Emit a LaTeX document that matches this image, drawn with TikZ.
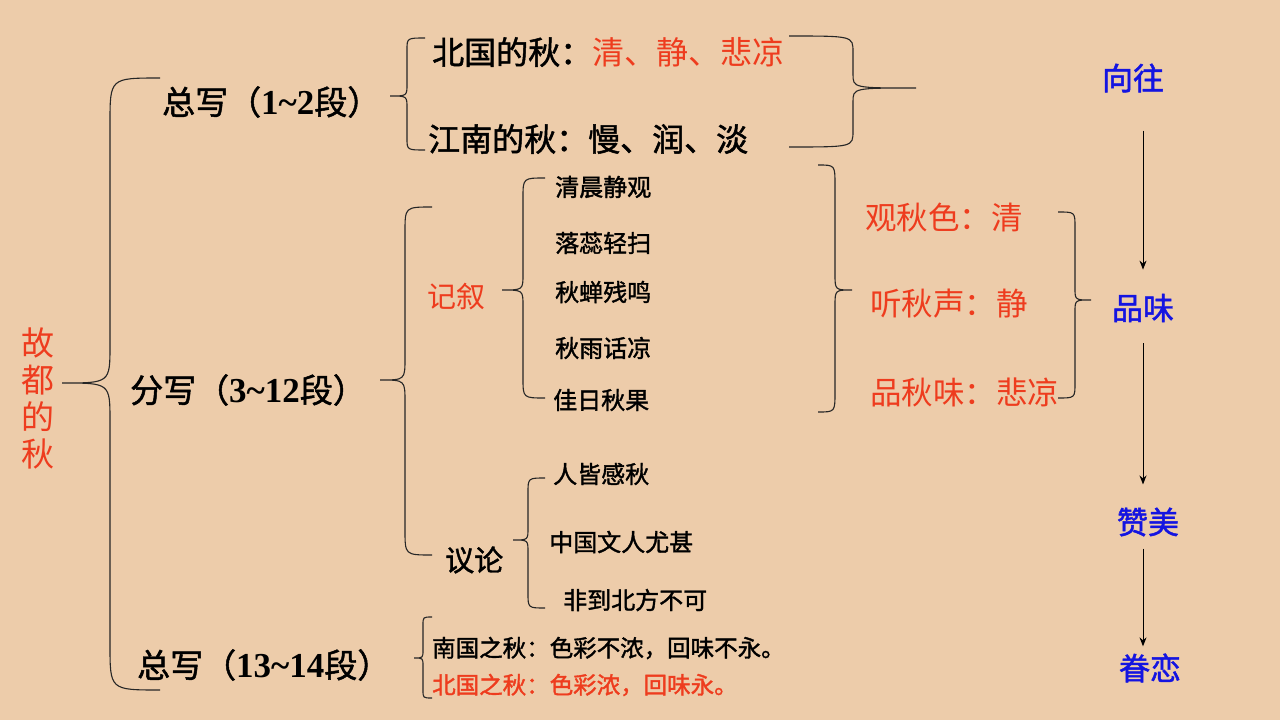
\documentclass[tikz,border=0pt]{standalone}
\usepackage{fontspec}
\setmainfont{Liberation Serif}
\newfontfamily\cjk[AutoFakeBold=1.5]{Noto Sans CJK SC}
\usetikzlibrary{arrows.meta}
\definecolor{bg}{RGB}{237,204,170}
\definecolor{myred}{RGB}{238,60,30}
\definecolor{myblue}{RGB}{20,20,225}
\newcommand\dg[2]{{\rmfamily\bfseries\fontsize{35}{38}\selectfont #1\string~#2}}
% spine x, top y, bottom y, end x, tip x, tip y, end radius, tip radius
\newcommand\curly[8]{\draw[brc] (#4,#2) .. controls (#1,#2) .. (#1,{#2+#7}) -- (#1,{#6-#8}) .. controls (#1,#6) .. (#5,#6) .. controls (#1,#6) .. (#1,{#6+#8}) -- (#1,{#3-#7}) .. controls (#1,#3) .. (#4,#3);}
\begin{document}
\begin{tikzpicture}[x=1pt,y=-1pt,
  brc/.style={draw=black!85,line width=1.1pt},
  txt/.style={inner sep=0pt,anchor=west},
  head/.style={txt,font=\cjk\bfseries\fontsize{33}{37}\selectfont},
  mid/.style={txt,font=\cjk\bfseries\fontsize{29}{34}\selectfont},
  item/.style={txt,font=\cjk\bfseries\fontsize{24}{28}\selectfont},
  small/.style={txt,font=\cjk\bfseries\fontsize{23.5}{27}\selectfont},
  mood/.style={txt,text=myred,font=\cjk\fontsize{31.5}{36}\selectfont},
  flow/.style={inner sep=0pt,text=myblue,font=\cjk\bfseries\fontsize{31}{36}\selectfont},
  arr/.style={draw=black,line width=1pt,-{Stealth[length=9pt,width=7pt]}}]
\fill[bg] (0,0) rectangle (1280,720);
\useasboundingbox (0,0) rectangle (1280,720);

% title
\node[inner sep=0pt,text=myred,align=center,font=\cjk\fontsize{33}{37}\selectfont] (title) at (38,398) {故\\都\\的\\秋};

% level 1
\node[head] (zx1) at (162,102) {总写（\dg{1}{2}段）};
\node[head] (fx) at (130,390) {分写（\dg{3}{12}段）};
\node[head] (zx2) at (137,665) {总写（\dg{13}{14}段）};

% top section
\node[head,font=\cjk\bfseries\fontsize{32}{36}\selectfont] (bg1) at (432,52) {北国的秋：\textcolor{myred}{\mdseries 清、静、悲凉}};
\node[head,font=\cjk\bfseries\fontsize{32}{36}\selectfont] (jn) at (428,139) {江南的秋：慢、润、淡};

% middle section
\node[mid,text=myred,font=\cjk\fontsize{29}{34}\selectfont] (jx) at (427,297) {记叙};
\node[item] (i1) at (555,187) {清晨静观};
\node[item] (i2) at (555,243) {落蕊轻扫};
\node[item] (i3) at (555,292) {秋蝉残鸣};
\node[item] (i4) at (555,348) {秋雨话凉};
\node[item] (i5) at (553,400) {佳日秋果};

\node[mid] (yl) at (445,560) {议论};
\node[item] (j1) at (553,474) {人皆感秋};
\node[item] (j2) at (549,542) {中国文人尤甚};
\node[item] (j3) at (563,600) {非到北方不可};

\node[mood] (m1) at (865,217) {观秋色：清};
\node[mood] (m2) at (870,304) {听秋声：静};
\node[mood] (m3) at (870,392) {品秋味：悲凉};

% bottom section
\node[small] (n1) at (432,648) {南国之秋：色彩不浓，回味不永。};
\node[small,text=myred] (n2) at (432,685) {北国之秋：色彩浓，回味永。};

% right flow
\node[flow] (xw) at (1133,78) {向往};
\node[flow] (pw) at (1143,308) {品味};
\node[flow] (zm) at (1148,522) {赞美};
\node[flow] (jl) at (1150,668) {眷恋};

\draw[arr,shorten <=38pt,shorten >=24pt] (pw.north |- xw.south) -- (pw.north);
\draw[arr,shorten <=21pt,shorten >=23pt] (pw.south) -- (pw.south |- zm.north);
\draw[arr,shorten <=12pt,shorten >=7pt] (pw.south |- zm.south) -- (pw.south |- jl.north);

% braces
\curly{110}{78}{690}{160}{62}{383}{45}{38}
\curly{407}{38}{150}{425}{390}{96}{12}{12}
\curly{853}{36}{147}{789}{916}{88}{16}{14}
\curly{405}{207}{555}{432}{380}{380}{25}{22}
\curly{523}{178}{398}{545}{502}{290}{20}{16}
\curly{528}{478}{608}{545}{513}{540}{15}{12}
\curly{835}{165}{412}{818}{852}{290}{20}{16}
\curly{1075}{212}{398}{1058}{1091}{300}{15}{12}
\curly{423}{617}{698}{432}{414}{658}{8}{8}
\end{tikzpicture}
\end{document}
